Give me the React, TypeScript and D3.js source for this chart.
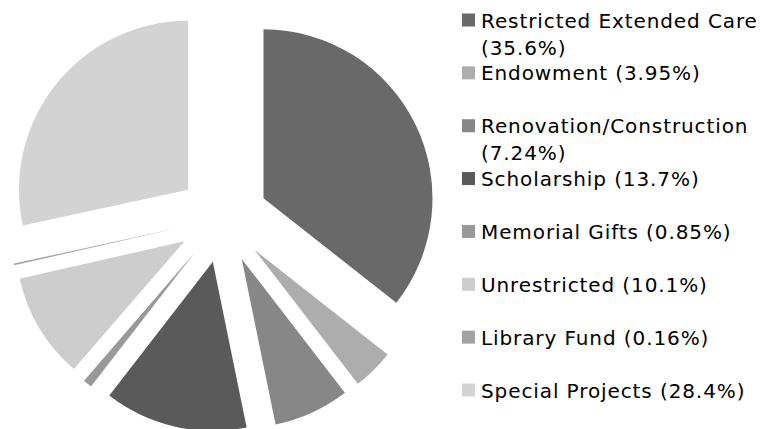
import React from "react";
import * as d3 from "d3";

const categories = [
  "Restricted Extended Care",
  "Endowment",
  "Renovation/Construction",
  "Scholarship",
  "Memorial Gifts",
  "Unrestricted",
  "Library Fund",
  "Special Projects",
];
const shares = [35.6, 3.95, 7.24, 13.7, 0.85, 10.1, 0.16, 28.4];
const shareLabels = ["35.6%", "3.95%", "7.24%", "13.7%", "0.85%", "10.1%", "0.16%", "28.4%"];
const colors = ["#696969", "#adadad", "#878787", "#5a5a5a", "#999999", "#cdcdcd", "#a3a3a3", "#d3d3d3"];

const width = 765;
const height = 429;
const cx = 223;
const cy = 218;
const radius = 169;
const explode = 45;

const fontSize = 20;
const letterSpacing = 0.9;
const font = `${fontSize}px 'DejaVu Sans'`;
const legendX = 462;
const legendTextX = 481;
const legendMaxWidth = 292;
const lineHeight = 27;

const measureCtx = document.createElement("canvas").getContext("2d");
const measure = (s: string) => {
  const base = measureCtx ? (measureCtx.font = font, measureCtx.measureText(s).width) : s.length * fontSize * 0.6;
  return base + s.length * letterSpacing;
};

// greedy word wrap so long legend entries break like the original
const wrap = (s: string) => {
  const words = s.split(" ");
  const lines: string[] = [];
  let cur = "";
  words.forEach((w) => {
    const next = cur ? cur + " " + w : w;
    if (cur && measure(next) > legendMaxWidth) {
      lines.push(cur);
      cur = w;
    } else {
      cur = next;
    }
  });
  if (cur) lines.push(cur);
  return lines;
};

const data = categories.map((c, i) => ({ name: c, value: shares[i], label: shareLabels[i], color: colors[i] }));

const pieGen = d3
  .pie<(typeof data)[number]>()
  .sort(null)
  .value((d) => d.value);
const arcGen = d3.arc<d3.PieArcDatum<(typeof data)[number]>>().innerRadius(0).outerRadius(radius);

const legendY = d3.scaleLinear().domain([0, data.length - 1]).range([27.5, 397.5]);

export default function App() {
  const arcs = pieGen(data);
  return (
    <svg
      width={width}
      height={height}
      style={{ position: "fixed", left: 0, top: 0, background: "#fff" }}
    >
      <g transform={`translate(${cx},${cy})`}>
        {arcs.map((a) => {
          const mid = (a.startAngle + a.endAngle) / 2;
          const dx = Math.sin(mid) * explode;
          const dy = -Math.cos(mid) * explode;
          return (
            <path
              key={a.data.name}
              d={arcGen(a) || ""}
              fill={a.data.color}
              transform={`translate(${dx},${dy})`}
            />
          );
        })}
      </g>
      <g style={{ fontFamily: "'DejaVu Sans'", fontSize, letterSpacing }}>
        {data.map((d, i) => {
          const y = legendY(i);
          const lines = wrap(`${d.name} (${d.label})`);
          return (
            <g key={d.name}>
              <rect x={legendX} y={y - 14} width={13} height={13} fill={d.color} />
              <text x={legendTextX} y={y} fill="#000">
                {lines.map((l, j) => (
                  <tspan key={j} x={legendTextX} y={y + j * lineHeight}>
                    {l}
                  </tspan>
                ))}
              </text>
            </g>
          );
        })}
      </g>
    </svg>
  );
}
